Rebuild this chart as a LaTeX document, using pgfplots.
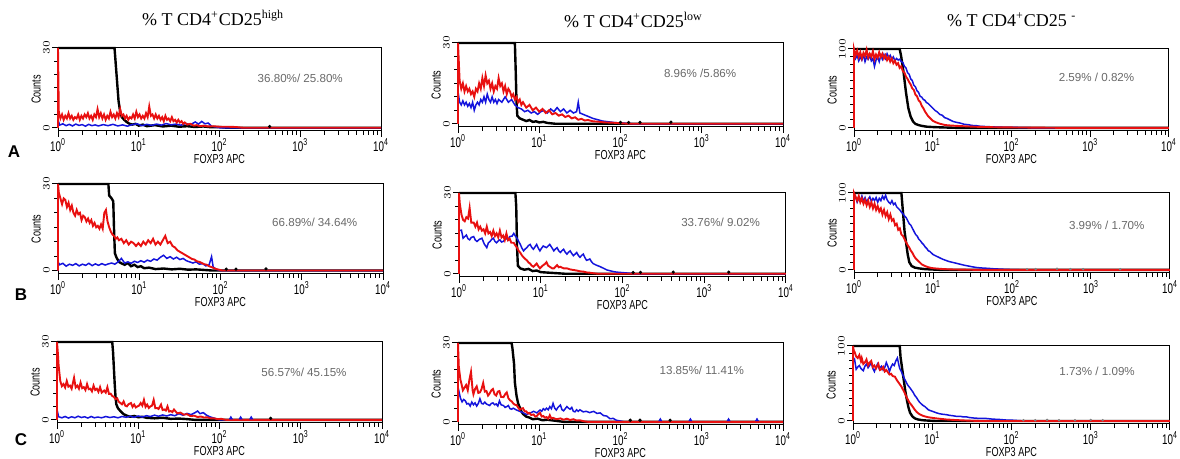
\documentclass[border=0pt]{standalone}
\usepackage{pgfplots}
\usepackage{pgfplotstable}
\pgfplotsset{compat=1.18}
\usepackage{fontspec}
\setmainfont{Liberation Sans}
\newfontfamily\cond[FakeStretch=0.7]{Liberation Sans}
\newfontfamily\tnr{Liberation Serif}
\definecolor{fr}{RGB}{232,16,16}
\definecolor{fb}{RGB}{20,20,220}
\definecolor{pc}{RGB}{105,105,105}
\pgfplotstableset{row sep=\\}
\tikzset{lnblack/.style={black, line width=1.2pt},
 lnred/.style={fr, line width=0.95pt},
 lnblue/.style={fb, line width=0.75pt}}
\newenvironment{flowaxis}[5]{\begin{axis}[
  xmin=0, xmax=4, scale only axis, clip=false, anchor=south west,
  at={(#1,#2)}, width=#3, height=#4,
  axis line style={line width=0.5pt},
  tick align=outside, xtick pos=bottom, ytick pos=left,
  xtick={0,1,2,3,4},
  xticklabels={10\textsuperscript{0},10\textsuperscript{1},10\textsuperscript{2},10\textsuperscript{3},10\textsuperscript{4}},
  minor xtick={0.301,0.477,0.602,0.699,0.778,0.845,0.903,0.954,1.301,1.477,1.602,1.699,1.778,1.845,1.903,1.954,2.301,2.477,2.602,2.699,2.778,2.845,2.903,2.954,3.301,3.477,3.602,3.699,3.778,3.845,3.903,3.954},
  major tick length=3pt, minor tick length=1.8pt,
  tick style={black, line width=0.5pt},
  xticklabel style={font=\cond\fontsize{7}{8}\selectfont, inner sep=0.5pt},
  yticklabel style={font=\fontsize{5.5}{6}\selectfont, rotate=90, anchor=south, inner sep=1pt},
  xlabel={FOXP3 APC}, ylabel={Counts},
  xlabel style={font=\cond\fontsize{6.5}{7}\selectfont, inner sep=0pt, yshift=-0.6pt},
  ylabel style={font=\cond\fontsize{6.5}{7}\selectfont, inner sep=0pt},
  #5]}{\end{axis}}
\newcommand{\pctnode}[3]{\node[font=\fontsize{5.8}{6}\selectfont, text=pc] at (rel axis cs:#1,#2) {#3};}
\begin{document}
\begin{tikzpicture}
\path[use as bounding box] (0,0) rectangle (590pt,229.5pt);
\node[anchor=base west, font=\tnr\fontsize{9}{10}\selectfont] at (67.5pt,216.5pt) {\% T CD4\textsuperscript{+}CD25\textsuperscript{high}};
\node[anchor=base west, font=\tnr\fontsize{9}{10}\selectfont] at (278.5pt,215.5pt) {\% T CD4\textsuperscript{+}CD25\textsuperscript{low}};
\node[anchor=base west, font=\tnr\fontsize{9}{10}\selectfont] at (470pt,216pt) {\% T CD4\textsuperscript{+}CD25 \textsuperscript{-}};
\node[font=\bfseries\fontsize{8.5}{9}\selectfont] at (7pt,153.5pt) {A};
\node[font=\bfseries\fontsize{8.5}{9}\selectfont] at (10.5pt,82pt) {B};
\node[font=\bfseries\fontsize{8.5}{9}\selectfont] at (10.5pt,9.5pt) {C};

% ---------- A1
\begin{flowaxis}{29pt}{164pt}{161.5pt}{41.5pt}{ymin=-1.2, ymax=30, ytick={0,30}, minor ytick={5,10,15,20,25}}
\addplot[lnblack] table{0 30\\ 0.70 30\\ 0.71 26\\ 0.73 18\\ 0.75 10\\ 0.77 6\\ 0.79 4\\ 0.82 3\\ 0.85 2.2\\ 0.88 1.6\\ 0.92 1.2\\ 0.96 1.5\\ 1.00 0.8\\ 1.05 1.2\\ 1.10 0.6\\ 1.20 1\\ 1.30 0.5\\ 1.40 0.8\\ 1.50 0.4\\ 1.60 0.6\\ 1.70 0.3\\ 1.80 0.5\\ 1.90 0.2\\ 2.00 0.3\\ 2.10 0\\ 4 0\\};
\addplot[lnblue] table{0 0\\ 0 3\\ 0.02 1\\ 0.06 1.5\\ 0.1 0.8\\ 0.14 1.3\\ 0.18 0.7\\ 0.22 1.4\\ 0.26 0.9\\ 0.3 1.2\\ 0.34 0.6\\ 0.38 1.3\\ 0.42 0.8\\ 0.46 1.1\\ 0.5 0.7\\ 0.56 1.2\\ 0.62 0.8\\ 0.68 1.3\\ 0.74 0.7\\ 0.8 1.1\\ 0.86 0.6\\ 0.92 1.2\\ 0.98 1.5\\ 1.04 0.8\\ 1.1 1.3\\ 1.16 0.9\\ 1.22 1.4\\ 1.28 1\\ 1.34 1.6\\ 1.4 1.1\\ 1.46 1.4\\ 1.52 1\\ 1.58 1.6\\ 1.64 1.2\\ 1.7 2.2\\ 1.74 1.4\\ 1.78 2.4\\ 1.82 1.5\\ 1.86 1.8\\ 1.9 0.6\\ 1.96 0.3\\ 2.0 0\\ 4 0\\};
\addplot[lnred] table{0 0\\ 0 30\\ 0.01 6\\ 0.03 3.5\\ 0.05 5\\ 0.07 3\\ 0.09 4.5\\ 0.11 3.5\\ 0.13 5.5\\ 0.15 3.5\\ 0.17 4.5\\ 0.19 3\\ 0.21 4\\ 0.23 3.5\\ 0.25 5\\ 0.27 3\\ 0.29 4.5\\ 0.31 3.5\\ 0.33 5\\ 0.35 4\\ 0.37 5.5\\ 0.39 3.5\\ 0.41 4.5\\ 0.43 3\\ 0.45 5\\ 0.47 4\\ 0.49 7\\ 0.51 4\\ 0.53 5.5\\ 0.55 3.5\\ 0.57 5\\ 0.59 3\\ 0.61 4.5\\ 0.63 3.5\\ 0.65 6\\ 0.67 4\\ 0.69 5\\ 0.71 3.5\\ 0.73 5.5\\ 0.75 4\\ 0.77 7\\ 0.79 4.5\\ 0.81 5\\ 0.83 3.5\\ 0.85 4.5\\ 0.87 3\\ 0.89 4\\ 0.91 3.5\\ 0.93 5\\ 0.95 3.5\\ 0.97 6\\ 0.99 4\\ 1.01 5\\ 1.03 3.5\\ 1.05 4.5\\ 1.07 3.5\\ 1.09 5.5\\ 1.11 4\\ 1.13 8\\ 1.15 4.5\\ 1.17 5\\ 1.19 3.5\\ 1.21 5\\ 1.23 3.5\\ 1.25 4.5\\ 1.27 3\\ 1.29 4\\ 1.31 2.5\\ 1.33 4.5\\ 1.35 3\\ 1.37 3.5\\ 1.39 2.5\\ 1.41 4\\ 1.43 2.5\\ 1.45 3\\ 1.47 2\\ 1.49 3\\ 1.51 2\\ 1.53 2.5\\ 1.55 1.5\\ 1.57 2\\ 1.60 1.2\\ 1.64 1.5\\ 1.68 0.8\\ 1.72 1\\ 1.76 0.6\\ 1.80 0.8\\ 1.86 0.5\\ 1.92 0.6\\ 2.00 0.4\\ 2.10 0.4\\ 2.20 0.3\\ 2.30 0\\ 4 0\\};
\addplot[only marks, mark=*, mark size=0.6pt, black] table{2.62 0.5\\};
\pctnode{0.75}{0.63}{36.80\%/ 25.80\%}
\end{flowaxis}

% ---------- A2
\begin{flowaxis}{229pt}{166pt}{162.5pt}{42pt}{ymin=-1.2, ymax=30, ytick={0,30}, minor ytick={5,10,15,20,25}}
\addplot[lnblack] table{0 30\\ 0.70 30\\ 0.71 20\\ 0.72 8\\ 0.73 3\\ 0.76 2\\ 0.80 1.5\\ 0.84 1\\ 0.88 1.4\\ 0.92 0.7\\ 0.96 0.9\\ 1.0 0.5\\ 1.05 0.7\\ 1.1 0.3\\ 1.2 0\\ 4 0\\};
\addplot[lnblue] table{0 0\\ 0 12\\ 0.02 8\\ 0.04 7\\ 0.06 8.5\\ 0.08 7\\ 0.10 8\\ 0.12 6.5\\ 0.14 7.5\\ 0.16 6\\ 0.18 8\\ 0.20 5\\ 0.22 7\\ 0.24 8\\ 0.26 7\\ 0.28 9\\ 0.30 8\\ 0.32 10\\ 0.34 8\\ 0.36 11\\ 0.38 9\\ 0.40 8\\ 0.42 10\\ 0.44 8\\ 0.46 9\\ 0.48 7.5\\ 0.50 9\\ 0.54 8\\ 0.58 10\\ 0.62 8\\ 0.66 9\\ 0.70 7\\ 0.74 6\\ 0.78 5.5\\ 0.82 4.5\\ 0.86 5\\ 0.90 4\\ 0.94 4.5\\ 0.98 3.5\\ 1.02 4.5\\ 1.06 5\\ 1.10 4\\ 1.14 5.5\\ 1.18 4.5\\ 1.22 6\\ 1.26 4.5\\ 1.30 5.5\\ 1.34 4\\ 1.38 5\\ 1.42 4\\ 1.46 4.5\\ 1.48 8\\ 1.50 4\\ 1.54 3.5\\ 1.58 3\\ 1.62 2.5\\ 1.66 2\\ 1.72 1.5\\ 1.78 1\\ 1.86 0.7\\ 1.94 0.4\\ 2.05 0.2\\ 2.15 0\\ 4 0\\};
\addplot[lnred] table{0 0\\ 0 30\\ 0.02 16\\ 0.04 13\\ 0.06 15\\ 0.08 12\\ 0.10 14\\ 0.12 12\\ 0.14 13\\ 0.16 11\\ 0.18 12\\ 0.20 10\\ 0.22 13\\ 0.24 12\\ 0.26 15\\ 0.28 13\\ 0.30 17\\ 0.32 14\\ 0.34 18\\ 0.36 15\\ 0.38 16\\ 0.40 13\\ 0.42 15\\ 0.44 12\\ 0.46 14\\ 0.48 13\\ 0.50 17\\ 0.52 14\\ 0.54 15\\ 0.56 12\\ 0.58 14\\ 0.60 11\\ 0.62 13\\ 0.64 12\\ 0.66 10\\ 0.68 11\\ 0.70 9\\ 0.72 10\\ 0.74 8\\ 0.76 9\\ 0.78 7\\ 0.80 8\\ 0.84 6\\ 0.88 7\\ 0.92 5\\ 0.96 6\\ 1.00 4.5\\ 1.04 5.5\\ 1.08 4\\ 1.12 5\\ 1.16 3.5\\ 1.20 4\\ 1.24 3\\ 1.28 3.5\\ 1.32 2.5\\ 1.36 3\\ 1.40 2\\ 1.44 2.4\\ 1.48 1.5\\ 1.52 1.8\\ 1.56 1.2\\ 1.60 1.4\\ 1.66 0.9\\ 1.72 0.8\\ 1.80 0.5\\ 1.90 0.4\\ 2.0 0.2\\ 2.1 0\\ 4 0\\};
\addplot[only marks, mark=*, mark size=0.6pt, black] table{2.0 0.5\\ 2.1 0.5\\ 2.24 0.5\\ 2.62 0.6\\};
\pctnode{0.745}{0.64}{8.96\% /5.86\%}
\end{flowaxis}

% ---------- A3
\begin{flowaxis}{427pt}{164pt}{157.5pt}{41pt}{ymin=-4, ymax=100, ytick={0,100}, minor ytick={10,20,30,40,50,60,70,80,90}}
\addplot[lnblack] table{0 100\\ 0.58 100\\ 0.60 90\\ 0.63 70\\ 0.66 45\\ 0.69 25\\ 0.72 14\\ 0.75 8\\ 0.78 5\\ 0.82 3.5\\ 0.86 2.5\\ 0.92 1.5\\ 1.0 1\\ 1.1 0.6\\ 1.2 0.3\\ 1.3 0\\ 4 0\\};
\addplot[lnblue] table{0 0\\ 0 95\\ 0.02 88\\ 0.04 92\\ 0.06 85\\ 0.08 90\\ 0.10 86\\ 0.12 93\\ 0.14 84\\ 0.16 90\\ 0.18 87\\ 0.20 92\\ 0.22 85\\ 0.24 88\\ 0.26 78\\ 0.28 86\\ 0.30 90\\ 0.32 84\\ 0.34 92\\ 0.36 87\\ 0.38 93\\ 0.40 88\\ 0.42 94\\ 0.44 89\\ 0.46 92\\ 0.48 87\\ 0.50 90\\ 0.52 85\\ 0.54 88\\ 0.56 86\\ 0.58 87\\ 0.60 84\\ 0.62 83\\ 0.64 78\\ 0.66 76\\ 0.68 70\\ 0.70 68\\ 0.72 62\\ 0.74 60\\ 0.76 54\\ 0.78 52\\ 0.80 47\\ 0.82 45\\ 0.84 40\\ 0.86 39\\ 0.88 36\\ 0.90 35\\ 0.92 32\\ 0.94 31\\ 0.96 29\\ 0.98 27\\ 1.00 25\\ 1.03 22\\ 1.06 20\\ 1.09 17\\ 1.12 16\\ 1.15 13\\ 1.18 12\\ 1.22 10\\ 1.26 8\\ 1.30 7\\ 1.35 6\\ 1.40 4.5\\ 1.45 4\\ 1.50 3\\ 1.55 2.8\\ 1.60 2\\ 1.70 1.5\\ 1.80 1\\ 1.90 0.7\\ 2.1 0.4\\ 2.3 0\\ 4 0\\};
\addplot[lnred] table{0 0\\ 0 100\\ 0.02 92\\ 0.04 98\\ 0.06 90\\ 0.08 96\\ 0.10 88\\ 0.12 95\\ 0.14 91\\ 0.16 99\\ 0.18 89\\ 0.20 94\\ 0.22 90\\ 0.24 97\\ 0.26 87\\ 0.28 93\\ 0.30 89\\ 0.32 96\\ 0.34 90\\ 0.36 94\\ 0.38 88\\ 0.40 92\\ 0.42 86\\ 0.44 90\\ 0.46 84\\ 0.48 88\\ 0.50 82\\ 0.52 85\\ 0.54 80\\ 0.56 82\\ 0.58 76\\ 0.60 78\\ 0.62 72\\ 0.64 70\\ 0.66 65\\ 0.68 62\\ 0.70 58\\ 0.72 55\\ 0.74 50\\ 0.76 48\\ 0.78 42\\ 0.80 40\\ 0.82 35\\ 0.84 33\\ 0.86 28\\ 0.88 25\\ 0.90 21\\ 0.92 18\\ 0.94 15\\ 0.96 13\\ 0.98 11\\ 1.00 9\\ 1.04 7\\ 1.08 5.5\\ 1.12 4.5\\ 1.16 3.5\\ 1.22 3\\ 1.30 2.5\\ 1.40 2\\ 1.50 1.5\\ 1.60 1.2\\ 1.70 1\\ 1.80 0.7\\ 2.0 0.5\\ 2.3 0.3\\ 2.6 0\\ 4 0\\};
\pctnode{0.77}{0.65}{2.59\% / 0.82\%}
\end{flowaxis}

% ---------- B1
\begin{flowaxis}{29pt}{92.5pt}{162.5pt}{45pt}{ymin=-1.2, ymax=30, ytick={0,30}, minor ytick={5,10,15,20,25}}
\addplot[lnblack] table{0 30\\ 0.62 30\\ 0.63 26\\ 0.66 25\\ 0.68 24\\ 0.69 14\\ 0.70 6\\ 0.72 4.5\\ 0.75 3\\ 0.78 2.5\\ 0.82 2\\ 0.86 2.6\\ 0.90 1.5\\ 0.94 2\\ 0.98 1.2\\ 1.02 1.5\\ 1.06 0.8\\ 1.12 1\\ 1.2 0.5\\ 1.3 0.7\\ 1.4 0.4\\ 1.5 0.6\\ 1.6 0.3\\ 1.7 0.4\\ 1.8 0.2\\ 1.9 0\\ 4 0\\};
\addplot[lnblue] table{0 0\\ 0 3\\ 0.02 2\\ 0.06 2.5\\ 0.10 1.5\\ 0.14 2.2\\ 0.18 1.8\\ 0.22 2.4\\ 0.26 1.6\\ 0.30 2.2\\ 0.34 1.8\\ 0.38 2.5\\ 0.42 1.7\\ 0.46 2.3\\ 0.50 1.8\\ 0.54 2.4\\ 0.58 1.9\\ 0.62 2.3\\ 0.66 2.6\\ 0.70 2.2\\ 0.74 3\\ 0.78 4.2\\ 0.82 2.6\\ 0.86 3\\ 0.90 2.5\\ 0.94 3.2\\ 0.98 2.8\\ 1.02 3.4\\ 1.06 2.9\\ 1.10 3.6\\ 1.14 3.2\\ 1.18 4\\ 1.22 3.6\\ 1.26 4.6\\ 1.30 5.3\\ 1.34 4.2\\ 1.38 4.8\\ 1.42 4\\ 1.46 4.6\\ 1.50 3.8\\ 1.54 4.2\\ 1.58 3.4\\ 1.62 3\\ 1.66 2.6\\ 1.70 3\\ 1.74 2.2\\ 1.78 2.4\\ 1.82 1.6\\ 1.86 2\\ 1.89 4.8\\ 1.91 1.2\\ 1.95 0.4\\ 2.0 0\\ 4 0\\};
\addplot[lnred] table{0 0\\ 0 30\\ 0.01 27\\ 0.03 25\\ 0.05 23\\ 0.07 25\\ 0.09 24.5\\ 0.11 22\\ 0.13 23.5\\ 0.15 21\\ 0.17 22.5\\ 0.19 20\\ 0.21 19\\ 0.23 21\\ 0.25 19.5\\ 0.27 20\\ 0.29 17.5\\ 0.31 19\\ 0.33 18.5\\ 0.35 17\\ 0.37 18\\ 0.39 16.5\\ 0.41 17.5\\ 0.43 15.5\\ 0.45 16.5\\ 0.47 15\\ 0.49 15.5\\ 0.51 14.5\\ 0.53 16\\ 0.55 14.5\\ 0.57 20\\ 0.59 21\\ 0.61 17\\ 0.63 15\\ 0.65 13.5\\ 0.67 12.5\\ 0.69 12\\ 0.71 11\\ 0.73 11.5\\ 0.75 10.5\\ 0.78 11\\ 0.81 9.5\\ 0.84 10.5\\ 0.87 9\\ 0.90 10\\ 0.93 9.5\\ 0.96 8.5\\ 0.99 9.5\\ 1.02 8.5\\ 1.05 10\\ 1.08 9\\ 1.11 10.5\\ 1.14 9.5\\ 1.17 11\\ 1.20 9\\ 1.23 10\\ 1.26 9\\ 1.29 10.5\\ 1.32 12\\ 1.35 9.5\\ 1.38 10\\ 1.41 8.5\\ 1.44 8\\ 1.47 7\\ 1.50 6.5\\ 1.53 6\\ 1.56 5.5\\ 1.59 5\\ 1.62 4.5\\ 1.65 4\\ 1.68 3.8\\ 1.71 3.2\\ 1.74 3\\ 1.77 2.6\\ 1.80 2.2\\ 1.83 2\\ 1.86 1.5\\ 1.89 1.2\\ 1.92 0.8\\ 1.95 0.5\\ 1.98 0.3\\ 2.02 0\\ 4 0\\};
\addplot[only marks, mark=*, mark size=0.6pt, black] table{2.07 0.5\\ 2.19 0.5\\ 2.56 0.6\\};
\pctnode{0.79}{0.57}{66.89\%/ 34.64\%}
\end{flowaxis}

% ---------- B2
\begin{flowaxis}{229.5pt}{91pt}{163.5pt}{42pt}{ymin=-1.2, ymax=30, ytick={0,30}, minor ytick={5,10,15,20,25}}
\addplot[lnblack] table{0 30\\ 0.69 30\\ 0.70 25\\ 0.71 10\\ 0.72 3\\ 0.75 2\\ 0.80 1.5\\ 0.85 1.8\\ 0.90 1\\ 0.95 1.2\\ 1.0 0.6\\ 1.1 0.4\\ 1.2 0.2\\ 1.3 0\\ 4 0\\};
\addplot[lnblue] table{0 0\\ 0 16\\ 0.03 16.2\\ 0.05 13.2\\ 0.07 13.8\\ 0.09 14.4\\ 0.11 13\\ 0.13 12.6\\ 0.15 13.5\\ 0.18 13.8\\ 0.20 12.5\\ 0.22 12\\ 0.25 12.8\\ 0.28 13.2\\ 0.31 11\\ 0.34 9.7\\ 0.36 11.5\\ 0.38 12\\ 0.40 12.8\\ 0.42 13.2\\ 0.44 12\\ 0.46 11.5\\ 0.48 12.2\\ 0.50 12.6\\ 0.52 11.8\\ 0.54 12\\ 0.56 12.6\\ 0.58 13.2\\ 0.60 12.5\\ 0.62 13.8\\ 0.65 14\\ 0.67 15\\ 0.69 14\\ 0.71 13.2\\ 0.73 12\\ 0.75 10.9\\ 0.77 9.5\\ 0.79 8.5\\ 0.81 9.2\\ 0.83 9.7\\ 0.85 10.5\\ 0.87 10.9\\ 0.89 9.8\\ 0.91 9.1\\ 0.93 10\\ 0.95 10.9\\ 0.97 9.5\\ 0.99 8.5\\ 1.01 9.5\\ 1.03 10.3\\ 1.05 10\\ 1.07 9.7\\ 1.09 10.3\\ 1.11 10.9\\ 1.14 9.5\\ 1.16 8.5\\ 1.18 9.2\\ 1.20 9.7\\ 1.22 8.5\\ 1.24 7.9\\ 1.26 8.6\\ 1.28 9.1\\ 1.30 8\\ 1.32 7.3\\ 1.34 8\\ 1.36 8.5\\ 1.38 7.5\\ 1.40 6.7\\ 1.42 7.3\\ 1.44 7.9\\ 1.46 6.8\\ 1.48 6.1\\ 1.50 6.8\\ 1.52 7.3\\ 1.54 6\\ 1.56 5\\ 1.58 5.2\\ 1.60 5.5\\ 1.62 4.5\\ 1.64 3.8\\ 1.68 3.2\\ 1.73 2.6\\ 1.77 2\\ 1.81 1.4\\ 1.85 1.1\\ 1.89 0.8\\ 1.93 0.6\\ 1.97 0.5\\ 2.05 0.3\\ 2.15 0\\ 4 0\\};
\addplot[lnred] table{0 0\\ 0 30\\ 0.01 26\\ 0.03 22\\ 0.05 20\\ 0.07 19.5\\ 0.09 21\\ 0.11 20.5\\ 0.13 24.5\\ 0.15 19\\ 0.18 19\\ 0.20 17.5\\ 0.22 19\\ 0.24 16.5\\ 0.26 17.5\\ 0.28 16\\ 0.30 16.5\\ 0.32 15\\ 0.34 17.5\\ 0.36 15\\ 0.38 15.5\\ 0.40 14\\ 0.42 16\\ 0.44 14\\ 0.46 15\\ 0.48 13.5\\ 0.50 16\\ 0.52 13.5\\ 0.54 14.2\\ 0.56 12.5\\ 0.58 15\\ 0.60 12.5\\ 0.62 13\\ 0.64 11.5\\ 0.67 11.5\\ 0.69 10.5\\ 0.71 9.7\\ 0.73 8.5\\ 0.75 7.8\\ 0.77 6.8\\ 0.79 6.1\\ 0.81 5.5\\ 0.83 5\\ 0.85 4.2\\ 0.87 3.8\\ 0.89 3\\ 0.91 2.6\\ 0.93 3.2\\ 0.95 3.8\\ 0.97 2.8\\ 0.99 2\\ 1.01 2.6\\ 1.03 3.2\\ 1.05 3.6\\ 1.07 4.3\\ 1.09 3\\ 1.11 2.6\\ 1.14 2\\ 1.16 2\\ 1.18 2.6\\ 1.20 3.2\\ 1.22 2.4\\ 1.24 2.6\\ 1.28 2\\ 1.32 2\\ 1.36 1.6\\ 1.40 1.4\\ 1.44 1.2\\ 1.48 0.9\\ 1.52 0.8\\ 1.56 0.5\\ 1.60 0.4\\ 1.64 0.2\\ 1.70 0\\ 4 0\\};
\addplot[only marks, mark=*, mark size=0.6pt, black] table{2.13 0.5\\ 2.22 0.5\\ 2.62 0.6\\ 3.30 0.6\\};
\pctnode{0.80}{0.65}{33.76\%/ 9.02\%}
\end{flowaxis}

% ---------- B3
\begin{flowaxis}{427pt}{93pt}{158pt}{40pt}{ymin=-4, ymax=100, ytick={0,100}, minor ytick={10,20,30,40,50,60,70,80,90}}
\addplot[lnblack] table{0 100\\ 0.60 100\\ 0.62 75\\ 0.64 50\\ 0.66 35\\ 0.68 20\\ 0.70 10\\ 0.73 5\\ 0.77 3\\ 0.82 2\\ 0.9 1\\ 1.0 0.5\\ 1.1 0\\ 4 0\\};
\addplot[lnblue] table{0 0\\ 0 92\\ 0.02 95\\ 0.04 88\\ 0.06 93\\ 0.08 90\\ 0.10 96\\ 0.12 89\\ 0.14 94\\ 0.16 88\\ 0.18 92\\ 0.20 95\\ 0.22 89\\ 0.24 93\\ 0.26 90\\ 0.28 94\\ 0.30 88\\ 0.32 93\\ 0.34 90\\ 0.36 96\\ 0.38 92\\ 0.40 97\\ 0.42 91\\ 0.44 88\\ 0.46 86\\ 0.48 90\\ 0.50 85\\ 0.52 87\\ 0.54 82\\ 0.56 80\\ 0.58 78\\ 0.60 75\\ 0.62 73\\ 0.64 70\\ 0.66 68\\ 0.68 64\\ 0.70 60\\ 0.72 58\\ 0.74 54\\ 0.76 50\\ 0.78 46\\ 0.80 44\\ 0.82 40\\ 0.84 38\\ 0.86 35\\ 0.88 33\\ 0.90 30\\ 0.92 28\\ 0.94 25\\ 0.96 24\\ 0.98 22\\ 1.00 20\\ 1.04 18\\ 1.08 16\\ 1.12 14\\ 1.16 12.5\\ 1.20 11\\ 1.24 10\\ 1.28 9\\ 1.32 8\\ 1.36 7\\ 1.40 6\\ 1.45 5\\ 1.50 4\\ 1.56 3\\ 1.62 2.5\\ 1.70 2\\ 1.78 1.4\\ 1.86 1\\ 1.95 0.6\\ 2.05 0.3\\ 2.2 0\\ 4 0\\};
\addplot[lnred] table{0 0\\ 0 100\\ 0.02 95\\ 0.04 90\\ 0.06 96\\ 0.08 88\\ 0.10 93\\ 0.12 86\\ 0.14 91\\ 0.16 84\\ 0.18 90\\ 0.20 82\\ 0.22 88\\ 0.24 80\\ 0.26 86\\ 0.28 78\\ 0.30 83\\ 0.32 76\\ 0.34 80\\ 0.36 72\\ 0.38 78\\ 0.40 70\\ 0.42 75\\ 0.44 66\\ 0.46 72\\ 0.48 64\\ 0.50 66\\ 0.52 58\\ 0.54 60\\ 0.56 52\\ 0.58 54\\ 0.60 46\\ 0.62 44\\ 0.64 40\\ 0.66 36\\ 0.68 32\\ 0.70 29\\ 0.72 25\\ 0.74 22\\ 0.76 18\\ 0.78 15\\ 0.80 13\\ 0.82 11\\ 0.84 9\\ 0.86 7\\ 0.88 6\\ 0.90 5\\ 0.94 3.5\\ 0.98 2.5\\ 1.02 2\\ 1.08 1.5\\ 1.15 1\\ 1.25 0.6\\ 1.4 0.3\\ 1.6 0\\ 4 0\\};
\addplot[only marks, mark=*, mark size=0.4pt, gray] table{2.19 1\\ 2.3 1\\ 2.57 1.5\\ 2.74 1\\ 2.9 1\\ 3.37 1\\};
\pctnode{0.80}{0.60}{3.99\% / 1.70\%}
\end{flowaxis}

% ---------- C1
\begin{flowaxis}{28.5pt}{18pt}{162.5pt}{40.5pt}{ymin=-1.2, ymax=30, ytick={0,30}, minor ytick={5,10,15,20,25}}
\addplot[lnblack] table{0 30\\ 0.68 30\\ 0.69 26\\ 0.70 20\\ 0.71 14\\ 0.72 9\\ 0.73 6\\ 0.75 4.5\\ 0.78 3.4\\ 0.82 2.2\\ 0.86 1.6\\ 0.90 1.2\\ 0.95 1.5\\ 1.0 1\\ 1.05 1.2\\ 1.1 0.8\\ 1.2 0.6\\ 1.3 0.8\\ 1.4 0.4\\ 1.5 0.5\\ 1.6 0.3\\ 1.7 0\\ 4 0\\};
\addplot[lnblue] table{0 0\\ 0 4\\ 0.02 1.2\\ 0.06 0.8\\ 0.10 1.3\\ 0.14 0.7\\ 0.18 1.2\\ 0.22 0.8\\ 0.26 1.4\\ 0.30 0.9\\ 0.34 1.2\\ 0.38 0.7\\ 0.42 1.3\\ 0.46 0.8\\ 0.50 1.1\\ 0.55 0.8\\ 0.60 1.3\\ 0.65 0.9\\ 0.70 1.2\\ 0.75 0.8\\ 0.80 1.3\\ 0.85 1\\ 0.90 1.4\\ 0.95 1\\ 1.00 1.5\\ 1.05 1.1\\ 1.10 1.6\\ 1.15 1.3\\ 1.20 1.8\\ 1.25 1.4\\ 1.30 1.9\\ 1.35 1.5\\ 1.40 2\\ 1.45 1.6\\ 1.50 2.4\\ 1.55 1.8\\ 1.60 2.5\\ 1.65 2\\ 1.70 2.8\\ 1.73 3.4\\ 1.76 2.4\\ 1.80 2.8\\ 1.84 1.8\\ 1.88 1.2\\ 1.92 0.8\\ 1.96 0.4\\ 2.0 0\\ 4 0\\};
\addplot[lnred] table{0 0\\ 0 30\\ 0.01 26\\ 0.02 21\\ 0.04 15\\ 0.06 13\\ 0.08 13.8\\ 0.10 12.5\\ 0.12 15\\ 0.14 12.8\\ 0.16 13.2\\ 0.18 12\\ 0.21 16.2\\ 0.23 12.5\\ 0.25 13.2\\ 0.27 12\\ 0.29 14.4\\ 0.31 12.2\\ 0.33 12.6\\ 0.35 11.5\\ 0.37 13.8\\ 0.39 11.8\\ 0.41 12\\ 0.43 11\\ 0.45 13.2\\ 0.47 11.5\\ 0.49 12\\ 0.51 10.8\\ 0.53 12.6\\ 0.55 10.5\\ 0.58 11.3\\ 0.60 10.5\\ 0.62 12.6\\ 0.64 10\\ 0.66 10.1\\ 0.68 9.2\\ 0.70 8.9\\ 0.72 8\\ 0.74 8.3\\ 0.76 7\\ 0.78 6.5\\ 0.80 6\\ 0.82 7.1\\ 0.84 5.5\\ 0.86 5.2\\ 0.88 6\\ 0.91 6.5\\ 0.93 5\\ 0.95 5.9\\ 0.97 4.8\\ 0.99 5.2\\ 1.01 5.5\\ 1.03 6.5\\ 1.05 5.5\\ 1.07 7.7\\ 1.09 5\\ 1.11 5.9\\ 1.13 4.6\\ 1.15 5.2\\ 1.17 5.5\\ 1.19 7.7\\ 1.21 4.5\\ 1.23 4.6\\ 1.25 4.2\\ 1.28 5.9\\ 1.30 3.8\\ 1.32 4\\ 1.34 3.6\\ 1.36 5.2\\ 1.38 3.2\\ 1.40 3.4\\ 1.42 3\\ 1.44 4\\ 1.48 2.5\\ 1.52 2.8\\ 1.56 2\\ 1.60 2.2\\ 1.64 1.5\\ 1.69 1.6\\ 1.73 1.1\\ 1.77 1.3\\ 1.81 0.9\\ 1.85 1\\ 1.89 0.6\\ 1.93 0.6\\ 1.98 0.3\\ 2.02 0.4\\ 2.08 0\\ 4 0\\};
\addplot[only marks, mark=triangle*, mark size=0.8pt, fb] table{2.14 0.7\\ 2.26 0.7\\ 2.39 0.7\\};
\addplot[only marks, mark=*, mark size=0.6pt, black] table{2.63 0.6\\};
\pctnode{0.76}{0.63}{56.57\%/ 45.15\%}
\end{flowaxis}

% ---------- C2
\begin{flowaxis}{229pt}{17pt}{162.5pt}{41pt}{ymin=-1.2, ymax=30, ytick={0,30}, minor ytick={5,10,15,20,25}}
\addplot[lnblack] table{0 30\\ 0.66 30\\ 0.67 28\\ 0.69 22\\ 0.70 15\\ 0.72 10\\ 0.74 7\\ 0.76 5.5\\ 0.78 4\\ 0.80 3\\ 0.84 2\\ 0.88 1.6\\ 0.92 1\\ 0.98 1.2\\ 1.04 0.6\\ 1.10 0.8\\ 1.20 0.4\\ 1.30 0\\ 4 0\\};
\addplot[lnblue] table{0 0\\ 0 11\\ 0.01 11.8\\ 0.03 9\\ 0.05 7.6\\ 0.07 8.5\\ 0.09 8\\ 0.11 6.8\\ 0.13 7\\ 0.15 6\\ 0.17 7.5\\ 0.19 6.5\\ 0.21 7.2\\ 0.23 6\\ 0.25 7\\ 0.27 8.8\\ 0.29 7\\ 0.31 6.8\\ 0.33 7.5\\ 0.35 6.8\\ 0.37 6.5\\ 0.39 6.2\\ 0.41 7\\ 0.43 7.2\\ 0.45 6.5\\ 0.47 6.8\\ 0.49 6\\ 0.51 8\\ 0.53 6.5\\ 0.56 6.2\\ 0.58 5.5\\ 0.60 5.8\\ 0.62 6.2\\ 0.64 5\\ 0.66 4.8\\ 0.68 5.2\\ 0.72 4.5\\ 0.76 4\\ 0.80 3.5\\ 0.84 2.8\\ 0.88 3.2\\ 0.93 4\\ 0.97 3.4\\ 1.01 4.5\\ 1.03 4\\ 1.05 5\\ 1.07 4.5\\ 1.09 5.2\\ 1.11 4.6\\ 1.13 5.8\\ 1.15 5\\ 1.17 7\\ 1.19 5.2\\ 1.21 4.5\\ 1.23 5.5\\ 1.26 6.4\\ 1.28 4.6\\ 1.30 4.2\\ 1.32 5\\ 1.34 5.8\\ 1.36 5.2\\ 1.38 4.8\\ 1.40 5.5\\ 1.42 4\\ 1.44 3.8\\ 1.46 4.6\\ 1.48 4\\ 1.50 4.6\\ 1.54 3.8\\ 1.58 4\\ 1.62 3.5\\ 1.67 4\\ 1.71 3.2\\ 1.75 3.4\\ 1.79 2.4\\ 1.83 2.2\\ 1.87 1.2\\ 1.91 1.3\\ 1.95 0.6\\ 2.00 0.3\\ 2.05 0\\ 4 0\\};
\addplot[lnred] table{0 0\\ 0 30\\ 0.01 21\\ 0.03 16\\ 0.04 14.8\\ 0.06 12\\ 0.08 13\\ 0.10 14\\ 0.12 12\\ 0.14 16\\ 0.16 19\\ 0.18 12\\ 0.19 10.5\\ 0.21 12.5\\ 0.23 13.5\\ 0.25 11\\ 0.27 11.2\\ 0.29 12.5\\ 0.31 14.8\\ 0.33 11.5\\ 0.35 11.7\\ 0.37 10\\ 0.39 10.8\\ 0.41 12\\ 0.43 12.5\\ 0.45 10.5\\ 0.47 10\\ 0.49 11.5\\ 0.51 11.7\\ 0.53 9.5\\ 0.56 9.4\\ 0.58 10.5\\ 0.60 11.2\\ 0.62 9\\ 0.64 8.2\\ 0.66 7.8\\ 0.68 7\\ 0.70 6.5\\ 0.72 6.4\\ 0.74 5.5\\ 0.76 4.6\\ 0.78 5\\ 0.80 5.2\\ 0.82 4\\ 0.84 4\\ 0.86 3.2\\ 0.88 3.4\\ 0.90 2.6\\ 0.93 2.8\\ 0.95 2\\ 0.97 2.2\\ 0.99 3\\ 1.01 3.4\\ 1.03 2\\ 1.05 2.2\\ 1.07 1.6\\ 1.09 1.8\\ 1.11 1.2\\ 1.13 2.5\\ 1.15 1.2\\ 1.17 1.5\\ 1.21 1\\ 1.26 1.3\\ 1.30 0.8\\ 1.34 1.2\\ 1.38 0.7\\ 1.42 1\\ 1.46 0.5\\ 1.50 0.6\\ 1.55 0.2\\ 1.60 0\\ 4 0\\};
\addplot[only marks, mark=*, mark size=0.6pt, black] table{2.12 0.6\\ 2.24 0.6\\ 2.61 0.6\\};
\addplot[only marks, mark=triangle*, mark size=0.8pt, fb] table{2.49 0.7\\ 2.86 0.7\\ 3.33 0.7\\ 3.68 0.7\\};
\pctnode{0.75}{0.67}{13.85\%/ 11.41\%}
\end{flowaxis}

% ---------- C3
\begin{flowaxis}{426.5pt}{17.5pt}{158.5pt}{39pt}{ymin=-4, ymax=100, ytick={0,100}, minor ytick={10,20,30,40,50,60,70,80,90}}
\addplot[lnblack] table{0 100\\ 0.59 100\\ 0.60 85\\ 0.62 70\\ 0.64 55\\ 0.66 40\\ 0.68 28\\ 0.70 18\\ 0.72 11\\ 0.75 6\\ 0.78 3.5\\ 0.82 2\\ 0.88 1\\ 0.95 0.5\\ 1.05 0\\ 4 0\\};
\addplot[lnblue] table{0 0\\ 0 85\\ 0.01 80\\ 0.02 82\\ 0.04 69\\ 0.06 72\\ 0.08 74\\ 0.10 70\\ 0.13 67\\ 0.15 73\\ 0.17 76\\ 0.19 71\\ 0.21 74\\ 0.23 78\\ 0.25 70\\ 0.27 66\\ 0.29 72\\ 0.31 76\\ 0.33 70\\ 0.36 73\\ 0.38 68\\ 0.40 71\\ 0.42 78\\ 0.44 73\\ 0.46 66\\ 0.48 72\\ 0.50 76\\ 0.52 74\\ 0.54 80\\ 0.56 84\\ 0.58 74\\ 0.59 70\\ 0.61 66\\ 0.63 61\\ 0.65 56\\ 0.67 52\\ 0.69 48\\ 0.72 44\\ 0.74 41\\ 0.76 38\\ 0.78 34\\ 0.80 31.5\\ 0.82 28\\ 0.84 25\\ 0.86 23\\ 0.88 21\\ 0.91 19\\ 0.93 17\\ 0.95 15\\ 0.97 14\\ 1.01 12.6\\ 1.05 11\\ 1.09 9.7\\ 1.13 9\\ 1.18 8.4\\ 1.22 7.5\\ 1.26 7\\ 1.30 6.3\\ 1.35 6.3\\ 1.39 5.5\\ 1.43 5.5\\ 1.47 4.6\\ 1.52 4\\ 1.60 3.4\\ 1.68 3.4\\ 1.76 2.5\\ 1.85 2\\ 1.93 1.3\\ 2.02 1\\ 2.1 0.4\\ 2.2 0\\ 4 0\\};
\addplot[lnred] table{0 0\\ 0 100\\ 0.01 94\\ 0.02 92\\ 0.04 86\\ 0.06 84\\ 0.08 88\\ 0.10 80\\ 0.11 84\\ 0.13 76\\ 0.15 78\\ 0.17 82\\ 0.19 74\\ 0.21 78\\ 0.23 80\\ 0.25 72\\ 0.27 74\\ 0.29 70\\ 0.32 76\\ 0.34 68\\ 0.36 69\\ 0.38 72\\ 0.40 66\\ 0.42 68\\ 0.44 65\\ 0.46 62\\ 0.48 63\\ 0.50 60\\ 0.53 59\\ 0.55 55\\ 0.57 52\\ 0.59 49\\ 0.61 46\\ 0.63 42\\ 0.65 38\\ 0.67 33\\ 0.69 29\\ 0.71 25\\ 0.74 21\\ 0.76 18\\ 0.78 15\\ 0.80 12.5\\ 0.82 10.5\\ 0.84 9\\ 0.86 8\\ 0.88 7\\ 0.91 6\\ 0.95 5\\ 1.01 4\\ 1.09 3\\ 1.18 2\\ 1.26 1.5\\ 1.35 1\\ 1.45 0.5\\ 1.6 0\\ 4 0\\};
\addplot[only marks, mark=*, mark size=0.4pt, gray] table{2.15 1\\ 2.3 1\\ 2.45 1.5\\ 2.6 1\\ 2.8 1\\ 3.0 1.5\\ 3.15 1\\};
\pctnode{0.77}{0.68}{1.73\% / 1.09\%}
\end{flowaxis}
\end{tikzpicture}
\end{document}
